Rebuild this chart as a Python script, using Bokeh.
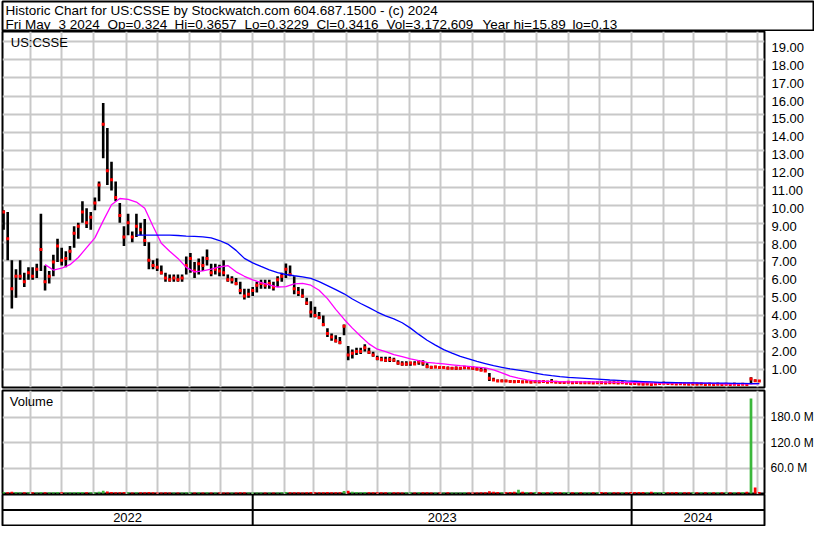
import datetime as dt
import pandas as pd
from bokeh.plotting import figure
from bokeh.layouts import column
from bokeh.models import Range1d, FixedTicker, ColumnDataSource, Label, Span
from bokeh.core.properties import value
from bokeh.embed import file_html
from bokeh.resources import INLINE

FONT = "Liberation Sans"

# ---------------- texts ----------------
header_line1 = "Historic Chart for US:CSSE by Stockwatch.com 604.687.1500 - (c) 2024"
header_fields = ["Fri May", "3 2024", "Op=0.324", "Hi=0.3657", "Lo=0.3229", "Cl=0.3416",
                 "Vol=3,172,609", "Year hi=15.89", "lo=0.13"]
header_field_x = [3, 56, 105, 172, 242, 314, 384, 480, 570]   # text positions (px)
symbol_label = "US:CSSE"
volume_label = "Volume"

# ---------------- data ----------------
bar_start = "2022-05-06"   # one bar every 4 calendar days up to 2024-05-03
bar_freq = "4D"

low = [
    8.8, 7.1, 4.4, 5.0, 6.0, 5.6, 6.0, 6.0, 6.1, 6.5,
    5.4, 5.8, 6.2, 7.0, 6.8, 6.7, 7.1, 7.8, 8.3, 9.2,
    8.9, 8.8, 9.9, 10.4, 12.8, 11.3, 11.0, 10.4, 9.2, 7.9,
    8.5, 8.1, 8.4, 8.5, 7.9, 6.6, 6.6, 6.5, 6.3, 5.9,
    5.9, 5.9, 5.9, 5.9, 6.3, 6.4, 6.1, 6.3, 6.5, 6.8,
    6.2, 6.3, 6.2, 6.2, 5.9, 5.8, 5.7, 5.2, 4.9, 5.0,
    5.1, 5.3, 5.5, 5.5, 5.5, 5.4, 5.6, 5.9, 6.1, 6.2,
    5.2, 5.1, 5.0, 4.6, 3.9, 3.9, 3.8, 3.4, 2.8, 2.6,
    2.5, 2.4, 2.9, 1.5, 1.6, 1.8, 1.85, 2.0, 1.85, 1.7,
    1.5, 1.45, 1.4, 1.4, 1.4, 1.25, 1.2, 1.2, 1.2, 1.25,
    1.25, 1.2, 1.06, 1.06, 1.06, 1.06, 1.05, 1.0, 1.0, 0.97,
    0.98, 1.0, 1.0, 0.97, 0.97, 0.9, 0.88, 0.34, 0.34, 0.3,
    0.3, 0.3, 0.27, 0.26, 0.27, 0.25, 0.26, 0.25, 0.26, 0.25,
    0.26, 0.25, 0.26, 0.24, 0.23, 0.22, 0.23, 0.21, 0.22, 0.21,
    0.2, 0.21, 0.2, 0.21, 0.2, 0.2, 0.21, 0.2, 0.19, 0.2,
    0.19, 0.18, 0.17, 0.15, 0.13, 0.14, 0.13, 0.15, 0.17, 0.18,
    0.17, 0.16, 0.15, 0.16, 0.15, 0.14, 0.15, 0.14, 0.14, 0.13,
    0.14, 0.13, 0.14, 0.13, 0.14, 0.13, 0.14, 0.13, 0.14, 0.13,
    0.16, 0.3, 0.3229,
]

high = [
    9.9, 9.8, 7.1, 6.6, 7.1, 6.4, 6.7, 6.7, 6.9, 9.7,
    6.8, 6.5, 7.4, 8.3, 7.8, 7.6, 7.9, 9.0, 9.2, 10.4,
    10.0, 9.8, 10.6, 11.5, 15.89, 14.5, 12.6, 11.5, 10.3, 9.0,
    9.7, 8.7, 9.7, 9.2, 9.4, 8.1, 7.1, 7.2, 6.8, 6.4,
    6.3, 6.3, 6.3, 6.3, 7.3, 7.5, 7.0, 7.2, 7.3, 7.7,
    6.9, 6.9, 6.85, 7.1, 6.3, 6.2, 6.1, 5.9, 5.5, 5.5,
    5.6, 5.9, 6.0, 6.0, 6.0, 5.9, 6.2, 6.4, 6.92, 6.8,
    6.2, 5.6, 5.5, 5.0, 4.8, 4.5, 4.2, 4.0, 3.3, 3.0,
    2.9, 2.8, 3.5, 2.3, 2.1, 2.2, 2.2, 2.4, 2.2, 1.98,
    1.75, 1.7, 1.7, 1.7, 1.65, 1.5, 1.45, 1.45, 1.42, 1.45,
    1.5, 1.5, 1.33, 1.2, 1.2, 1.15, 1.15, 1.15, 1.12, 1.15,
    1.12, 1.2, 1.15, 1.15, 1.12, 1.1, 1.05, 0.79, 0.52, 0.43,
    0.43, 0.42, 0.4, 0.38, 0.4, 0.37, 0.39, 0.36, 0.38, 0.37,
    0.37, 0.36, 0.45, 0.35, 0.34, 0.33, 0.34, 0.32, 0.33, 0.32,
    0.31, 0.33, 0.3, 0.32, 0.31, 0.3, 0.32, 0.31, 0.3, 0.31,
    0.29, 0.28, 0.27, 0.26, 0.24, 0.25, 0.23, 0.26, 0.28, 0.3,
    0.28, 0.27, 0.26, 0.27, 0.25, 0.24, 0.25, 0.24, 0.25, 0.23,
    0.24, 0.23, 0.24, 0.22, 0.23, 0.22, 0.24, 0.23, 0.22, 0.22,
    0.55, 0.43, 0.3657,
]

close = [
    9.8, 8.3, 5.5, 6.2, 6.2, 5.9, 6.4, 6.2, 6.6, 7.7,
    5.9, 6.2, 7.0, 7.9, 7.1, 7.2, 7.6, 8.6, 9.0, 9.8,
    9.2, 9.5, 10.3, 11.3, 14.7, 12.1, 11.6, 10.6, 9.6, 8.4,
    9.2, 8.4, 9.0, 8.8, 8.2, 7.1, 6.8, 6.7, 6.4, 6.1,
    6.0, 6.1, 6.0, 6.1, 6.8, 7.2, 6.5, 6.9, 6.8, 7.2,
    6.4, 6.6, 6.5, 6.4, 6.0, 6.0, 5.8, 5.4, 5.1, 5.2,
    5.4, 5.7, 5.8, 5.7, 5.8, 5.6, 6.0, 6.2, 6.6, 6.3,
    5.5, 5.3, 5.1, 4.7, 4.2, 4.0, 3.9, 3.5, 3.0, 2.8,
    2.6, 2.5, 3.4, 1.8, 1.9, 2.0, 2.0, 2.2, 1.95, 1.8,
    1.6, 1.55, 1.5, 1.55, 1.5, 1.35, 1.3, 1.3, 1.35, 1.3,
    1.4, 1.35, 1.15, 1.1, 1.12, 1.1, 1.1, 1.05, 1.05, 1.05,
    1.05, 1.1, 1.08, 1.05, 1.0, 0.95, 0.9, 0.5, 0.4, 0.35,
    0.35, 0.34, 0.32, 0.3, 0.31, 0.29, 0.3, 0.28, 0.3, 0.29,
    0.31, 0.28, 0.3, 0.27, 0.26, 0.26, 0.27, 0.25, 0.26, 0.24,
    0.24, 0.25, 0.23, 0.25, 0.24, 0.23, 0.25, 0.24, 0.23, 0.24,
    0.22, 0.21, 0.2, 0.18, 0.16, 0.17, 0.15, 0.18, 0.2, 0.22,
    0.2, 0.19, 0.18, 0.19, 0.17, 0.16, 0.17, 0.16, 0.17, 0.15,
    0.16, 0.15, 0.16, 0.15, 0.16, 0.15, 0.16, 0.15, 0.16, 0.15,
    0.45, 0.36, 0.3416,
]

volume_m = [
    3.4, 3.0, 4.1, 3.2, 2.7, 2.9, 2.6, 2.8, 2.5, 3.6,
    3.0, 2.6, 2.8, 3.2, 2.7, 2.5, 2.6, 2.9, 3.2, 3.4,
    2.8, 2.6, 3.0, 3.8, 6.5, 4.6, 3.5, 3.0, 2.9, 3.2,
    2.7, 2.5, 2.8, 2.6, 2.7, 3.2, 2.6, 2.4, 2.5, 2.6,
    2.3, 2.4, 2.2, 2.3, 2.8, 3.0, 2.5, 2.6, 2.4, 2.7,
    2.5, 2.3, 2.4, 2.5, 2.3, 2.2, 2.4, 2.6, 2.7, 2.4,
    2.3, 2.5, 2.4, 2.2, 2.3, 2.4, 2.5, 2.6, 3.2, 2.7,
    2.9, 2.6, 2.5, 2.8, 3.2, 2.7, 2.6, 3.0, 3.3, 2.9,
    2.8, 3.0, 5.8, 6.4, 3.7, 3.2, 2.9, 3.5, 3.0, 2.8,
    2.9, 2.7, 2.6, 2.8, 2.7, 2.6, 2.5, 2.7, 2.6, 2.5,
    2.7, 2.8, 2.6, 2.5, 2.4, 2.5, 2.4, 2.6, 2.5, 2.4,
    2.5, 2.6, 2.5, 2.4, 2.5, 2.7, 2.8, 5.4, 3.9, 3.3,
    3.0, 3.1, 3.5, 3.8, 8.5, 3.7, 3.3, 3.1, 3.4, 3.0,
    3.3, 2.9, 3.9, 3.1, 3.0, 3.3, 2.9, 3.1, 2.8, 3.0,
    2.9, 3.1, 2.8, 3.0, 3.3, 2.9, 3.1, 3.0, 2.8, 2.9,
    3.1, 3.4, 3.3, 3.6, 3.5, 3.1, 3.8, 3.3, 3.0, 3.4,
    3.1, 3.0, 3.3, 2.9, 3.1, 3.0, 2.8, 3.0, 2.9, 3.1,
    3.0, 2.8, 2.9, 3.1, 3.0, 2.9, 2.8, 3.0, 3.3, 4.0,
    224.0, 14.0, 3.17,
]

# moving averages, sampled on every 2nd bar
ma_fast_first_bar = 10
ma_fast = [
    6.85, 6.55, 6.65, 6.85, 7.25, 7.8, 8.35, 9.3, 10.2, 10.55,
    10.5, 10.35, 10.0, 9.0, 8.05, 7.6, 7.2, 6.7, 6.45, 6.5,
    6.6, 6.72, 6.8, 6.45, 6.2, 6.0, 5.85, 5.72, 5.6, 5.62,
    5.78, 5.8, 5.7, 5.42, 4.95, 4.35, 3.8, 3.3, 2.85, 2.42,
    2.12, 1.98, 1.82, 1.7, 1.58, 1.48, 1.39, 1.34, 1.3, 1.25,
    1.2, 1.16, 1.12, 1.08, 0.97, 0.8, 0.62, 0.5, 0.41, 0.35,
    0.33, 0.32, 0.31, 0.3, 0.3, 0.3, 0.29, 0.28, 0.28, 0.27,
    0.26, 0.25, 0.25, 0.24, 0.23, 0.22, 0.22, 0.22, 0.22, 0.22,
    0.21, 0.2, 0.19, 0.18, 0.18, 0.18, 0.2,
]
ma_slow_first_bar = 32
ma_slow = [
    8.5, 8.5, 8.5, 8.5, 8.5, 8.48, 8.45, 8.43, 8.4, 8.35,
    8.2, 8.0, 7.65, 7.2, 6.95, 6.75, 6.56, 6.4, 6.3, 6.23,
    6.17, 6.08, 5.9, 5.68, 5.45, 5.22, 4.93, 4.68, 4.45, 4.2,
    3.99, 3.82, 3.6, 3.3, 2.95, 2.62, 2.35, 2.1, 1.9, 1.72,
    1.58, 1.44, 1.32, 1.2, 1.11, 1.02, 0.95, 0.88, 0.79, 0.7,
    0.64, 0.59, 0.55, 0.52, 0.49, 0.46, 0.43, 0.4, 0.38, 0.35,
    0.33, 0.31, 0.29, 0.27, 0.26, 0.25, 0.24, 0.24, 0.23, 0.23,
    0.22, 0.22, 0.21, 0.21, 0.2, 0.2,
]

price_ticks = [1, 2, 3, 4, 5, 6, 7, 8, 9, 10, 11, 12, 13, 14, 15, 16, 17, 18, 19]
price_tick_labels = ["1.00", "2.00", "3.00", "4.00", "5.00", "6.00", "7.00", "8.00",
                     "9.00", "10.00", "11.00", "12.00", "13.00", "14.00", "15.00",
                     "16.00", "17.00", "18.00", "19.00"]
volume_ticks = [60, 120, 180]
volume_tick_labels = ["60.0 M", "120.0 M", "180.0 M"]
year_labels = ["2022", "2023", "2024"]

# ---------------- derived ----------------
n = min(len(low), len(high), len(close), len(volume_m))
dates = pd.date_range(bar_start, periods=n, freq=bar_freq)
up = [True] + [close[i] >= close[i - 1] for i in range(1, n)]
vol_colors = ["#3cb83c" if u else "#ff0000" for u in up]

bars = ColumnDataSource(dict(date=dates, low=low[:n], high=high[:n], close=close[:n],
                             vol=volume_m[:n], vcol=vol_colors))
fd = dates[ma_fast_first_bar::2]
m1 = min(len(fd), len(ma_fast))
sd = dates[ma_slow_first_bar::2]
m2 = min(len(sd), len(ma_slow))

x_start = pd.Timestamp("2022-05-05")
x_end = pd.Timestamp("2024-05-08")
month_lines = pd.date_range("2022-06-01", "2024-05-01", freq="MS")
month_ms = [d.value / 1e6 for d in month_lines]

FW = 762
LB = 2
RB = 50
GRID = "#c8c8c8"

# ---------------- header ----------------
hdr = figure(frame_width=812, frame_height=30, min_border_left=1, min_border_right=1,
             min_border_top=1, min_border_bottom=0,
             x_range=Range1d(0, 812), y_range=Range1d(30, 0),
             x_axis_location=None, y_axis_location=None,
             toolbar_location=None, output_backend="svg")
hdr.grid.visible = False
hdr.outline_line_color = "black"
hdr.outline_line_width = 2
hdr.text(x=[3], y=[9.0], text=[header_line1],
         text_font=value(FONT), text_font_size="13.5px", text_color="black",
         text_baseline="middle", text_align="left")
hdr.text(x=header_field_x, y=[23.0] * len(header_field_x), text=header_fields,
         text_font=value(FONT), text_font_size="13.5px", text_color="black",
         text_baseline="middle", text_align="left")

# ---------------- price panel ----------------
xr = Range1d(x_start, x_end)
p = figure(x_axis_type="datetime", x_range=xr, y_range=Range1d(-0.02, 19.89),
           frame_width=FW, frame_height=356,
           min_border_left=LB, min_border_right=RB, min_border_top=0, min_border_bottom=2,
           x_axis_location=None, y_axis_location="right",
           toolbar_location=None, output_backend="svg")
p.outline_line_color = "black"
p.outline_line_width = 2
p.xgrid.ticker = FixedTicker(ticks=month_ms)
p.ygrid.ticker = FixedTicker(ticks=[0.97 + 1.0203 * k for k in range(19)])
for g in (p.xgrid, p.ygrid):
    g.grid_line_color = GRID
    g.grid_line_width = 2
ax = p.yaxis[0]
ax.ticker = FixedTicker(ticks=price_ticks)
ax.major_label_overrides = dict(zip(price_ticks, price_tick_labels))
ax.axis_line_color = None
ax.major_tick_line_color = None
ax.minor_tick_line_color = None
ax.major_tick_out = 0
ax.major_tick_in = 0
ax.major_label_standoff = 7
ax.major_label_text_font = FONT
ax.major_label_text_font_size = "13px"
ax.major_label_text_color = "black"

p.segment(x0="date", y0="low", x1="date", y1="high", source=bars,
          line_color="black", line_width=2.6)
p.scatter(x="date", y="close", source=bars, marker="square", size=3,
          fill_color="#ff0000", line_color=None)
p.line(x=list(fd[:m1]), y=ma_fast[:m1], line_color="#ff00ff", line_width=1.3)
p.line(x=list(sd[:m2]), y=ma_slow[:m2], line_color="#0000ff", line_width=1.3)
p.add_layout(Label(x=x_start + pd.Timedelta(days=8), y=19.3, text=symbol_label,
                   text_font=FONT, text_font_size="13px", text_color="black",
                   text_baseline="middle"))

# ---------------- volume panel ----------------
v = figure(x_axis_type="datetime", x_range=xr, y_range=Range1d(-2.5, 243),
           frame_width=FW, frame_height=104,
           min_border_left=LB, min_border_right=RB, min_border_top=1, min_border_bottom=0,
           x_axis_location=None, y_axis_location="right",
           toolbar_location=None, output_backend="svg")
v.outline_line_color = "black"
v.outline_line_width = 2
v.xgrid.ticker = FixedTicker(ticks=month_ms)
v.ygrid.ticker = FixedTicker(ticks=volume_ticks)
for g in (v.xgrid, v.ygrid):
    g.grid_line_color = GRID
    g.grid_line_width = 2
vax = v.yaxis[0]
vax.ticker = FixedTicker(ticks=volume_ticks)
vax.major_label_overrides = dict(zip(volume_ticks, volume_tick_labels))
vax.axis_line_color = None
vax.major_tick_line_color = None
vax.minor_tick_line_color = None
vax.major_tick_out = 0
vax.major_tick_in = 0
vax.major_label_standoff = 6
vax.major_label_text_font = FONT
vax.major_label_text_font_size = "12px"
vax.major_label_text_color = "black"
v.vbar(x="date", top="vol", bottom=0, width=2.6 * 86400000, source=bars,
       fill_color="vcol", line_color=None)
v.add_layout(Label(x=x_start + pd.Timedelta(days=7), y=217, text=volume_label,
                   text_font=FONT, text_font_size="13px", text_color="black",
                   text_baseline="middle"))

# ---------------- date strip ----------------
year_mid = []
for y in year_labels:
    a = max(x_start, pd.Timestamp(f"{y}-01-01"))
    b = min(x_end, pd.Timestamp(f"{int(y) + 1}-01-01"))
    year_mid.append(a + (b - a) / 2)
year_bounds = [pd.Timestamp(f"{y}-01-01") for y in year_labels[1:]]

xs = figure(x_axis_type="datetime", x_range=xr, y_range=Range1d(0, 2),
            frame_width=FW, frame_height=31,
            min_border_left=LB, min_border_right=RB, min_border_top=0, min_border_bottom=1,
            x_axis_location=None, y_axis_location=None,
            toolbar_location=None, output_backend="svg")
xs.grid.visible = False
xs.outline_line_color = "black"
xs.outline_line_width = 2
xs.add_layout(Span(location=1, dimension="width", line_color="black", line_width=2))
xs.segment(x0=year_bounds, y0=[0] * len(year_bounds), x1=year_bounds,
           y1=[2] * len(year_bounds), line_color="black", line_width=2)
xs.text(x=year_mid, y=[0.5] * len(year_mid), text=year_labels,
        text_font=value(FONT), text_font_size="13px", text_color="black",
        text_align="center", text_baseline="middle")

layout = column(hdr, p, v, xs, spacing=0)
open("out.html", "w").write(file_html(layout, INLINE))
